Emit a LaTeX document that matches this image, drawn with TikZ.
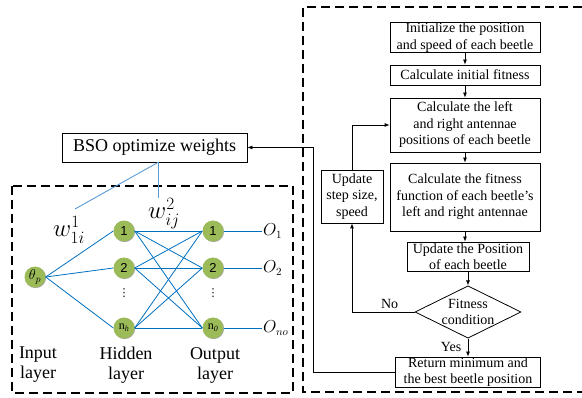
\documentclass[tikz,border=0pt]{standalone}
\usepackage{fontspec}
\setmainfont{Liberation Serif}
\newfontfamily\arialf{Liberation Sans}
\newfontfamily\dejavu{DejaVu Sans}
\usetikzlibrary{arrows.meta,shapes.geometric,shadows}
\definecolor{nodegreen}{RGB}{155,187,89}
\definecolor{netblue}{RGB}{0,112,192}
\definecolor{lightblue}{RGB}{91,155,213}
\begin{document}
\begin{tikzpicture}[x=1pt,y=-1pt,
  fbox/.style={draw, line width=0.8pt, align=center, inner sep=0pt,
    font=\fontsize{14}{16.5}\selectfont},
  dbox/.style={draw, line width=1.3pt, dash pattern=on 9pt off 5pt},
  arr/.style={-{Latex[length=5pt,width=4pt]}, line width=0.8pt},
  neuron/.style={circle, fill=nodegreen, minimum size=21pt, inner sep=0pt,
    drop shadow={shadow xshift=0.6pt, shadow yshift=-0.6pt, opacity=0.35, fill=black}},
  nlab/.style={font=\arialf\fontsize{13}{13}\selectfont},
  net/.style={draw=netblue, line width=0.8pt},
  layer/.style={align=center, font=\fontsize{18}{20}\selectfont},
  olab/.style={anchor=west, font=\fontsize{16}{16}\selectfont, inner sep=1pt},
  wlab/.style={anchor=base west, inner sep=0pt, font=\fontsize{24}{28}\selectfont},
  dots/.style={inner sep=0pt, font=\dejavu\fontsize{11}{11}\selectfont}
]
\useasboundingbox (0,0) rectangle (582,398);

% dashed frames
\draw[dbox] (12,186) rectangle (293,393);
\draw[dbox] (582,7) -- (303,7) -- (303,392) -- (582,392);

% flowchart
\node[fbox, minimum width=150pt, minimum height=29pt] (init) at (465,37.5)
  {Initialize the position\\and speed of each beetle};
\node[fbox, minimum width=150pt, minimum height=20pt] (calc) at (465,75)
  {Calculate initial fitness};
\node[fbox, minimum width=150pt, minimum height=54pt] (ant) at (465,125)
  {Calculate the left\\and right antennae\\positions of each beetle};
\node[fbox, minimum width=150pt, minimum height=68pt] (fit) at (465,197)
  {Calculate the fitness\\function of each beetle's\\left and right antennae};
\node[fbox, minimum width=122pt, minimum height=29pt] (upd) at (468,256.5)
  {Update the Position\\of each beetle};
\node[fbox, diamond, minimum width=106pt, minimum height=52pt, aspect=2] (cond) at (468,312)
  {Fitness\\condition};
\node[fbox, minimum width=145pt, minimum height=30pt] (ret) at (468,372)
  {Return minimum and\\the best beetle position};
\node[fbox, minimum width=62pt, minimum height=53pt] (step) at (352,196.5)
  {Update\\step size,\\speed};

\draw[arr] (init.south) -- (init.south |- calc.north);
\draw[arr] (calc.south) -- (calc.south |- ant.north);
\draw[arr] (ant.south) -- (ant.south |- fit.north);
\draw[arr] (fit.south) -- (fit.south |- upd.north);
\draw[arr] (upd.south) -- (cond.north);
\draw[arr] (cond.south) -- (ret.north) node[pos=0.45, left=3pt, font=\fontsize{14}{14}\selectfont] {Yes};
\draw[arr] (cond.west) -| (step.south) node[pos=0.2, above, font=\fontsize{14}{14}\selectfont] {No};
\draw[arr] (step.north) |- (ant.west);

% BSO box
\node[draw, line width=0.8pt, minimum width=185pt, minimum height=29pt, inner sep=0pt,
  font=\fontsize{18}{20}\selectfont] (bso) at (154.5,147.5) {BSO optimize weights};
\coordinate (bend) at (313,0);
\draw[arr] (ret.west) -| (bend |- bso.east) -- (bso.east);

% weight lines
\coordinate (wtop) at ([xshift=3.5pt]bso.south);
\coordinate (wa) at (75,209);
\coordinate (wb) at (158,198);
\draw[lightblue, line width=0.9pt] (wtop) -- (wa);
\draw[lightblue, line width=0.9pt] (wtop) -- (wb);
\node[wlab] (w1) at (53,237) {$w^{1}_{1i}$};
\node[wlab] (w2) at (148,219) {$w^{2}_{ij}$};

% network
\node[neuron] (in) at (35,277) {\fontsize{14}{14}\selectfont$\theta_p$};
\node[neuron, nlab] (h1) at (124,231) {1};
\node[neuron, nlab] (h2) at (124,268) {2};
\node[neuron] (hn) at (124,328) {\fontsize{12}{12}\selectfont n\textsubscript{\textit{h}}};
\node[neuron, nlab] (o1) at (213,231) {1};
\node[neuron, nlab] (o2) at (213,268) {2};
\node[neuron] (on) at (213,328) {\fontsize{12}{12}\selectfont n\textsubscript{\textit{0}}};
\node[dots] (d1) at (124,293) {⋮};
\node[dots] (d2) at (213,293) {⋮};

\foreach \h in {h1,h2,hn} \draw[net] (in.east) -- (\h.west);
\foreach \h in {h1,h2,hn} \foreach \o in {o1,o2,on} \draw[net] (\h.east) -- (\o.west);

\coordinate (e1) at (262,231);
\coordinate (e2) at (262,268);
\coordinate (en) at (262,328);
\draw[net] (o1.east) -- (e1);
\draw[net] (o2.east) -- (e2);
\draw[net] (on.east) -- (en);
\node[olab] (O1) at (e1) {$O_1$};
\node[olab] (O2) at (e2) {$O_2$};
\node[olab] (On) at (en) {$O_{no}$};

% layer labels
\node[layer] (li) at (38,365) {Input\\layer};
\node[layer] (lh) at (126,365) {Hidden\\layer};
\node[layer] (lo) at (215,365) {Output\\layer};
\end{tikzpicture}
\end{document}
